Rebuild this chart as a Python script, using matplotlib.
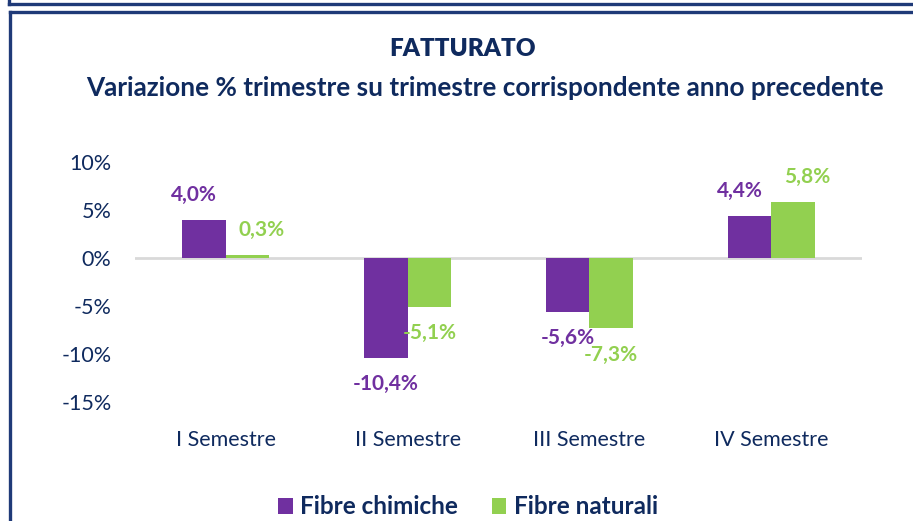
import matplotlib.pyplot as plt
from matplotlib.lines import Line2D
import numpy as np

plt.rcParams['font.family'] = ['Lato', 'DejaVu Sans']

categories = ["I Semestre", "II Semestre", "III Semestre", "IV Semestre"]
chimiche = [4.0, -10.4, -5.6, 4.4]
naturali = [0.3, -5.1, -7.3, 5.8]
series_names = ["Fibre chimiche", "Fibre naturali"]

PURPLE = "#7030A0"
GREEN = "#92D050"
NAVY = "#0F2A5E"
FRAME = "#1F3A78"

W, H = 913, 521
fig = plt.figure(figsize=(W / 100, H / 100), dpi=100)
fig.patch.set_facecolor("white")

# frame lines (pixel coords -> figure coords)
def px_line(x0, y0, x1, y1):
    fig.add_artist(Line2D([x0 / W, x1 / W], [1 - y0 / H, 1 - y1 / H],
                          color=FRAME, lw=2.4, transform=fig.transFigure))

px_line(9, 0, 9, 4)
px_line(9, 4, W, 4)
px_line(10, 11.5, W, 11.5)
px_line(10, 11.5, 10, H)

ax = fig.add_axes([135 / W, 1 - 402 / H, (862 - 135) / W, (402 - 162) / H])
x = np.arange(len(categories))
bw = 0.24
b1 = ax.bar(x - bw / 2, chimiche, bw, color=PURPLE, label=series_names[0], zorder=3)
b2 = ax.bar(x + bw / 2, naturali, bw, color=GREEN, label=series_names[1], zorder=3)

# positive labels sit a little apart from each other, negative ones centred
for bars, vals, col, dx in [(b1, chimiche, PURPLE, -7), (b2, naturali, GREEN, 10)]:
    for b, v in zip(bars, vals):
        off = (dx, 18) if v >= 0 else (0, -19)
        ax.annotate(f"{v:.1f}%".replace(".", ","),
                    (b.get_x() + b.get_width() / 2, v),
                    xytext=off, textcoords="offset points",
                    ha="center", va="center",
                    color=col, fontsize=15, fontweight="bold")

ax.set_xlim(-0.5, 3.5)
ax.set_ylim(-15, 10)
ax.set_yticks([10, 5, 0, -5, -10, -15])
ax.set_yticklabels(["10%", "5%", "0%", "-5%", "-10%", "-15%"])
ax.set_xticks(x)
ax.set_xticklabels(categories)
ax.tick_params(axis="y", length=0, pad=17, labelsize=15.5, labelcolor=NAVY)
ax.tick_params(axis="x", length=0, pad=20, labelsize=15.5, labelcolor=NAVY)
for s in ax.spines.values():
    s.set_visible(False)
ax.axhline(0, color="#D9D9D9", lw=2, zorder=2)

fig.text(463 / W, 1 - 49 / H, "FATTURATO", ha="center", va="center",
         fontsize=17.5, fontweight="heavy", color=NAVY)
fig.text(485 / W, 1 - 88 / H, "Variazione % trimestre su trimestre corrispondente anno precedente",
         ha="center", va="center", fontsize=18.8, fontweight="bold", color=NAVY)

leg = fig.legend(handles=[b1, b2], loc="center", bbox_to_anchor=(468 / W, 1 - 507 / H),
                 ncol=2, frameon=False, fontsize=17.5, handlelength=0.6, handleheight=0.6,
                 handletextpad=0.3, columnspacing=1.4)
for t in leg.get_texts():
    t.set_color(NAVY)
    t.set_fontweight("bold")

fig.savefig("out.png", dpi=100)
